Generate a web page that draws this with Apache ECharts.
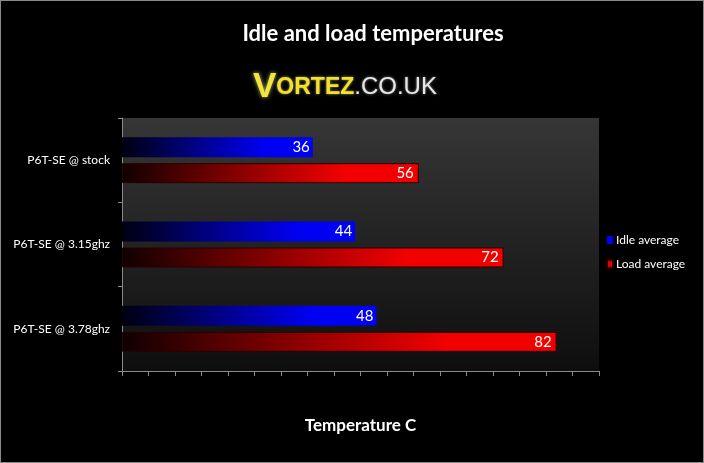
<!DOCTYPE html>
<html>
<head>
<meta charset="utf-8">
<script src="https://cdn.jsdelivr.net/npm/echarts@6/dist/echarts.min.js"></script>
<style>
html,body{margin:0;padding:0;background:#000;}
#chart{width:704px;height:463px;box-sizing:border-box;border:1px solid #8a8a8a;background:#000;}
</style>
</head>
<body>
<div id="chart"></div>
<script>
const categories = ['P6T-SE @ stock', 'P6T-SE @ 3.15ghz', 'P6T-SE @ 3.78ghz'];
const idleAverage = [36, 44, 48];
const loadAverage = [56, 72, 82];
const seriesNames = ['Idle average', 'Load average'];
const titleText = 'Idle and load temperatures';
const axisTitle = 'Temperature C';

const FONT = 'Lato, "Open Sans", sans-serif';
const LOGO = '"Liberation Sans", Arial, sans-serif';
const chart = echarts.init(document.getElementById('chart'));

function grad(c0, c1, c2) {
  return new echarts.graphic.LinearGradient(0, 0, 1, 0, [
    {offset: 0, color: c0},
    {offset: 0.45, color: c1},
    {offset: 0.75, color: c2},
    {offset: 1, color: c2}
  ]);
}

chart.setOption({
  backgroundColor: '#000',
  animation: false,
  title: {
    text: titleText,
    left: 367, textAlign: 'center', top: 17,
    textStyle: {color: '#fff', fontFamily: FONT, fontWeight: 'bold', fontSize: 22}
  },
  graphic: [{
    type: 'text',
    left: 252, top: 69,
    style: {
      rich: {
        v: {fontFamily: LOGO, fontWeight: 'bold', fontSize: 35, fill: '#f3e63a', textShadowColor: 'rgba(255,255,180,0.7)', textShadowBlur: 4},
        o: {fontFamily: LOGO, fontWeight: 'bold', fontSize: 23, fill: '#f3e02a', textShadowColor: 'rgba(255,255,180,0.6)', textShadowBlur: 3},
        c: {fontFamily: LOGO, fontSize: 24, fill: '#e6e6e6', textShadowColor: 'rgba(255,255,255,0.5)', textShadowBlur: 3}
      },
      text: '{v|V}{o|ORTEZ}{c|.CO.UK}'
    }
  }],
  legend: {
    orient: 'vertical',
    left: 605, top: 233, padding: 0,
    itemWidth: 6, itemHeight: 8, itemGap: 12,
    icon: 'rect',
    textStyle: {color: '#fff', fontFamily: FONT, fontSize: 12, padding: [0,0,0,-2]},
    data: [
      {name: seriesNames[0], itemStyle: {color: '#0000ff'}},
      {name: seriesNames[1], itemStyle: {color: '#e00000'}}
    ]
  },
  grid: {
    left: 121, right: 104, top: 117, bottom: 91,
    show: true, borderWidth: 0,
    backgroundColor: new echarts.graphic.LinearGradient(0, 0, 0, 1, [
      {offset: 0, color: '#363636'},
      {offset: 1, color: '#0e0e0e'}
    ])
  },
  xAxis: {
    type: 'value', min: 0, max: 90, interval: 5,
    name: axisTitle, nameLocation: 'middle', nameGap: 46,
    nameTextStyle: {color: '#fff', fontFamily: FONT, fontWeight: 'bold', fontSize: 17},
    axisLine: {show: true, lineStyle: {color: '#8a8a8a'}},
    axisTick: {show: true, length: 5, lineStyle: {color: '#8a8a8a'}},
    axisLabel: {show: false},
    splitLine: {show: false}
  },
  yAxis: {
    type: 'category', data: categories, inverse: true,
    axisLine: {show: true, lineStyle: {color: '#8a8a8a'}},
    axisTick: {show: true, length: 4, lineStyle: {color: '#8a8a8a'}},
    axisLabel: {color: '#fff', fontFamily: FONT, fontSize: 12, margin: 12}
  },
  series: [
    {
      name: seriesNames[0], type: 'bar', data: idleAverage,
      barWidth: 20, barGap: '30%',
      itemStyle: {color: grad('#000010', '#00009a', '#0000f2')},
      label: {show: true, position: 'insideRight', distance: 3, color: '#fff', fontFamily: FONT, fontSize: 15}
    },
    {
      name: seriesNames[1], type: 'bar', data: loadAverage,
      barWidth: 20,
      itemStyle: {color: grad('#100000', '#9a0000', '#f20000'), borderColor: '#2a0000', borderWidth: 1},
      label: {show: true, position: 'insideRight', distance: 5, color: '#fff', fontFamily: FONT, fontSize: 15}
    }
  ]
});
</script>
</body>
</html>
